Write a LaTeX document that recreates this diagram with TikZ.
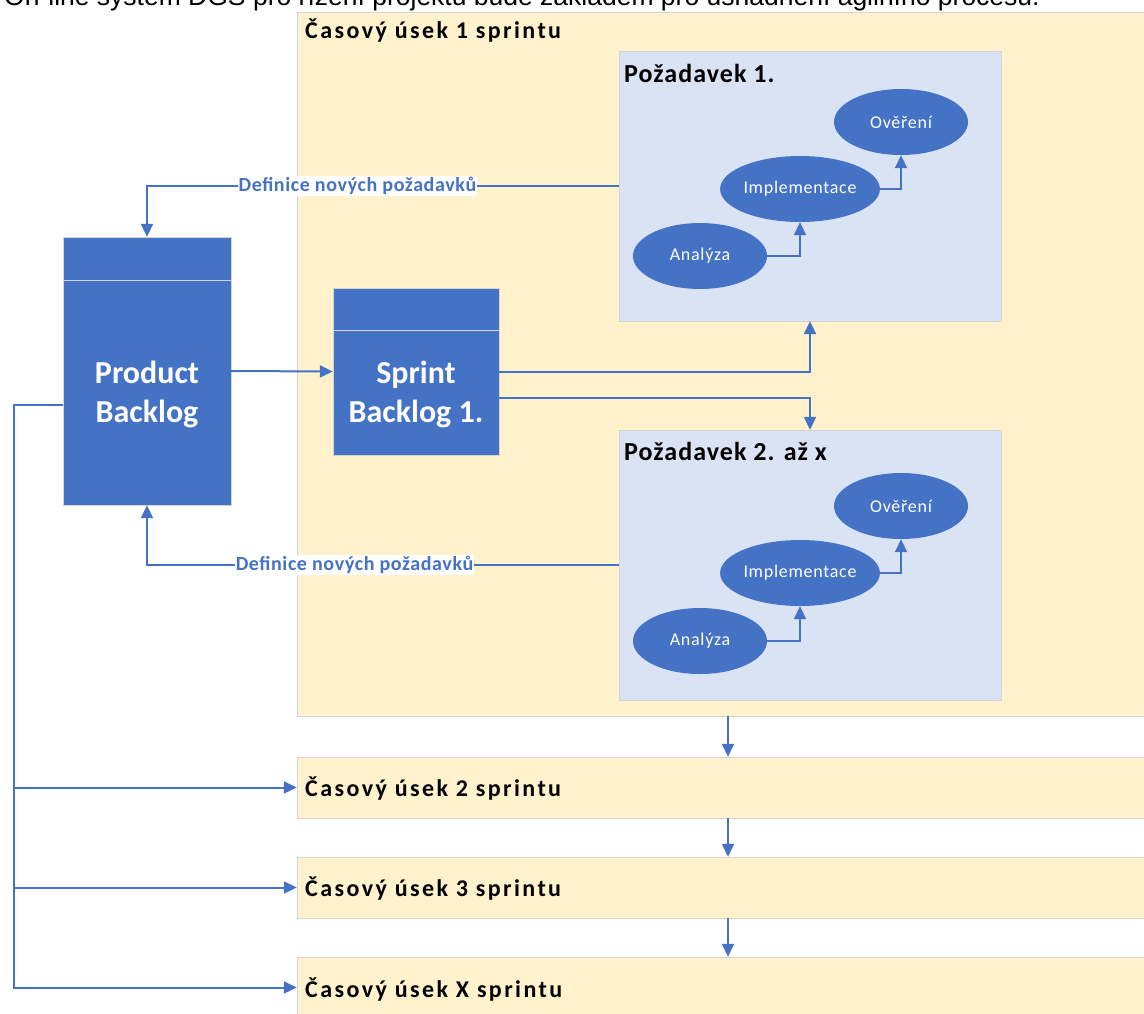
\documentclass[tikz,border=0pt]{standalone}
\usepackage{fontspec}
\setmainfont{Carlito}
\newfontfamily\topfont{Liberation Sans}
\usetikzlibrary{arrows.meta,shapes.geometric}
\definecolor{offblue}{HTML}{4472C4}
\definecolor{sandbg}{HTML}{FFF2CC}
\definecolor{reqbg}{HTML}{DAE3F3}
\definecolor{edgegray}{HTML}{D4D4D4}
\begin{document}
\begin{tikzpicture}[x=1pt, y=-1pt,
    sprintbox/.style={draw=edgegray, fill=sandbg, inner sep=0pt, minimum width=862pt},
    reqbox/.style={draw=edgegray, fill=reqbg, inner sep=0pt, minimum width=382pt, minimum height=270pt},
    backlog/.style={draw=edgegray, fill=offblue, inner sep=0pt, minimum width=168pt},
    backlogtext/.style={text=white, align=center, font=\bfseries\fontsize{32}{39}\selectfont},
    heading/.style={anchor=west, inner sep=0pt, font=\bfseries\fontsize{24}{27}\selectfont\addfontfeatures{LetterSpace=10}},
    reqhead/.style={anchor=west, inner sep=0pt, font=\bfseries\fontsize{26}{30}\selectfont\addfontfeatures{LetterSpace=4}},
    phase/.style={ellipse, fill=offblue, text=white, font=\fontsize{18}{21}\selectfont\addfontfeatures{LetterSpace=4}, minimum width=134pt, minimum height=66pt, inner sep=0pt},
    link/.style={draw=offblue, line width=2pt, -{Triangle[length=13pt, width=12pt]}},
    feedback/.style={fill=white, text=offblue, inner sep=1pt, font=\bfseries\fontsize{20}{23}\selectfont\addfontfeatures{LetterSpace=3}}]
    \useasboundingbox (0,0) rectangle (1144,1013);
    \node[anchor=base west, inner sep=0pt, font=\topfont\fontsize{26.5}{30}\selectfont] (intro) at (4,5)
        {On-line systém DGS pro řízení projektu bude základem pro usnadnění agilního procesu.};

    % casove useky
    \node[sprintbox, minimum height=704pt] (s1) at (728,364) {};
    \node[sprintbox, minimum height=61pt] (s2) at (728,787.5) {};
    \node[sprintbox, minimum height=61pt] (s3) at (728,887.5) {};
    \node[sprintbox, minimum height=61pt] (sx) at (728,987.5) {};
    \node[heading] (t1) at (305,31) {Časový úsek 1 sprintu};
    \node[heading] (t2) at (305,789) {Časový úsek 2 sprintu};
    \node[heading] (t3) at (305,889) {Časový úsek 3 sprintu};
    \node[heading] (tx) at (305,990) {Časový úsek X sprintu};

    % pozadavky
    \node[reqbox] (r1) at (810,186) {};
    \node[reqhead] (q1) at (624,73) {Požadavek 1.};
    \node[phase] (an1) at (700,256) {Analýza};
    \node[phase] (im1) at (800,189) {Implementace};
    \node[phase] (ov1) at (901,122) {Ověření};
    \draw[link] (an1.east) -| (im1.south);
    \draw[link] (im1.east) -| (ov1.south);

    \node[reqbox] (r2) at (810,565) {};
    \node[reqhead] (q2) at (624,451) {Požadavek 2. až x};
    \node[phase] (an2) at (700,641) {Analýza};
    \node[phase] (im2) at (800,573) {Implementace};
    \node[phase] (ov2) at (901,506) {Ověření};
    \draw[link] (an2.east) -| (im2.south);
    \draw[link] (im2.east) -| (ov2.south);

    % backlogy
    \node[backlog, minimum height=268pt] (pb) at (147,371) {};
    \draw[edgegray] ([yshift=-43pt]pb.north west) -- ([yshift=-43pt]pb.north east);
    \node[backlogtext] (pbt) at (147,394) {Product\\Backlog};
    \node[backlog, minimum width=166pt, minimum height=167pt] (sb) at (416,371.5) {};
    \draw[edgegray] ([yshift=-42pt]sb.north west) -- ([yshift=-42pt]sb.north east);
    \node[backlogtext] (sbt) at (416,394) {Sprint\\Backlog 1.};

    % vazby
    \draw[link] (pb.east) -- (sb.west);
    \draw[link] (sb.east) -| (r1.south);
    \draw[link] ([yshift=-26pt]sb.east) -| (r2.north);
    \draw[link] (r1.west) -| (pb.north) node[feedback, pos=0.277] {Definice nových požadavků};
    \draw[link] (r2.west) -| (pb.south) node[feedback, pos=0.28] {Definice nových požadavků};
    \coordinate (trunk) at (14,405);
    \draw[link] ([yshift=-34pt]pb.west) -- (trunk) |- (sx.west);
    \draw[link] (trunk |- s2.west) -- (s2.west);
    \draw[link] (trunk |- s3.west) -- (s3.west);
    \draw[link, line width=1.5pt] (s1.south) -- (s2.north);
    \draw[link, line width=1.5pt] (s2.south) -- (s3.north);
    \draw[link, line width=1.5pt] (s3.south) -- (sx.north);
\end{tikzpicture}
\end{document}
